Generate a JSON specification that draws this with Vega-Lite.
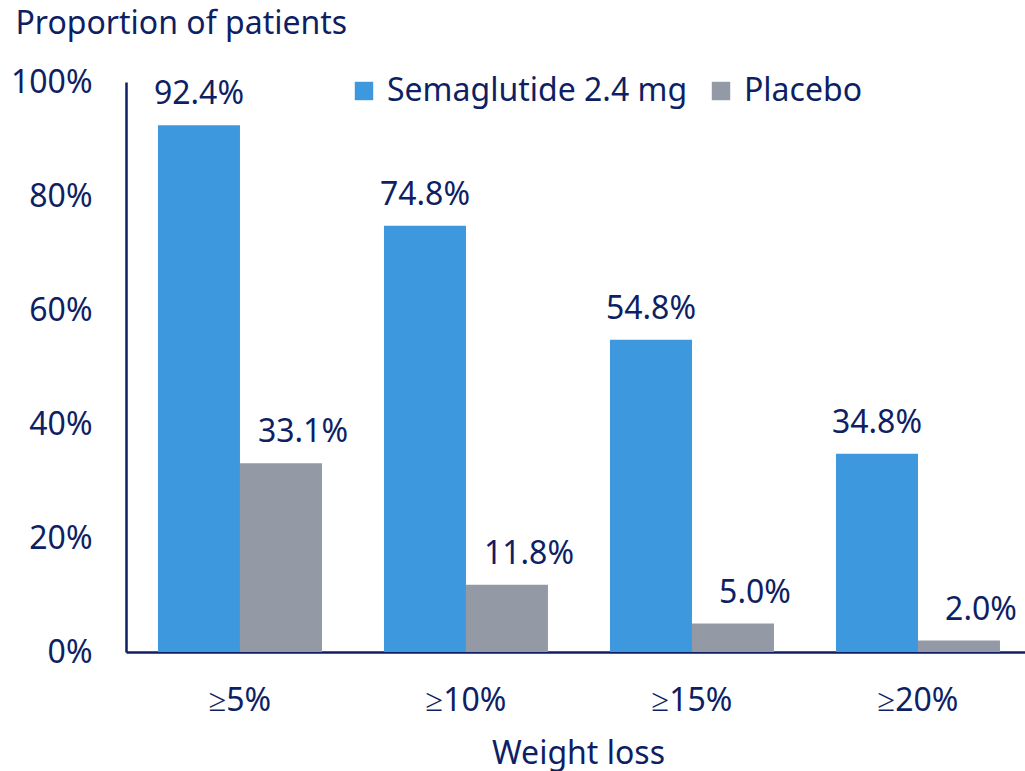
{
  "$schema": "https://vega.github.io/schema/vega-lite/v6.json",
  "autosize": "none",
  "padding": {"left": 126, "top": 82, "right": 0, "bottom": 119},
  "width": 899,
  "height": 570,
  "background": "white",
  "config": {
    "view": {"stroke": null},
    "font": "Noto Sans",
    "text": {"font": "Noto Sans"}
  },
  "data": {
    "values": [
      {"loss": "≥5%", "group": "Semaglutide 2.4 mg", "value": 0.924},
      {"loss": "≥5%", "group": "Placebo", "value": 0.331},
      {"loss": "≥10%", "group": "Semaglutide 2.4 mg", "value": 0.748},
      {"loss": "≥10%", "group": "Placebo", "value": 0.118},
      {"loss": "≥15%", "group": "Semaglutide 2.4 mg", "value": 0.548},
      {"loss": "≥15%", "group": "Placebo", "value": 0.05},
      {"loss": "≥20%", "group": "Semaglutide 2.4 mg", "value": 0.348},
      {"loss": "≥20%", "group": "Placebo", "value": 0.02}
    ]
  },
  "encoding": {
    "x": {
      "field": "loss",
      "type": "nominal",
      "sort": ["≥5%", "≥10%", "≥15%", "≥20%"],
      "scale": {"paddingInner": 0.2743, "paddingOuter": 0.1261, "align": 0.561},
      "axis": {
        "title": "Weight loss",
        "titleFont": "Noto Sans",
        "titleFontSize": 32,
        "titleFontWeight": "normal",
        "titleColor": "#0e1f64",
        "titleBaseline": "alphabetic",
        "titleY": 111,
        "titleX": 452,
        "labelAngle": 0,
        "labelFont": "Noto Sans",
        "labelFontSize": 32,
        "labelColor": "#0e1f64",
        "labelBaseline": "alphabetic",
        "labelPadding": 58,
        "ticks": false,
        "domainColor": "#0e1f64",
        "domainWidth": 2.5
      }
    },
    "xOffset": {
      "field": "group",
      "type": "nominal",
      "sort": ["Semaglutide 2.4 mg", "Placebo"]
    },
    "y": {
      "field": "value",
      "type": "quantitative",
      "scale": {"domain": [0, 1]},
      "axis": {
        "values": [0, 0.2, 0.4, 0.6, 0.8, 1],
        "format": ".0%",
        "grid": false,
        "ticks": false,
        "title": "Proportion of patients",
        "titleAngle": 0,
        "titleAlign": "left",
        "titleBaseline": "alphabetic",
        "titleX": -111,
        "titleY": -49,
        "titleFont": "Noto Sans",
        "titleFontSize": 32,
        "titleFontWeight": "normal",
        "titleColor": "#0e1f64",
        "labelFont": "Noto Sans",
        "labelFontSize": 32,
        "labelColor": "#0e1f64",
        "labelPadding": 34,
        "labelBaseline": "middle",
        "domainColor": "#0e1f64",
        "domainWidth": 2.5
      }
    }
  },
  "layer": [
    {
      "mark": {"type": "bar"},
      "encoding": {
        "color": {
          "field": "group",
          "type": "nominal",
          "sort": ["Semaglutide 2.4 mg", "Placebo"],
          "scale": {"domain": ["Semaglutide 2.4 mg", "Placebo"], "range": ["#3d98de", "#949aa5"]},
          "legend": {
            "title": null,
            "orient": "none",
            "direction": "horizontal",
            "legendX": 222,
            "legendY": -7,
            "padding": 0,
            "symbolType": "square",
            "symbolSize": 340,
            "symbolStrokeWidth": 0,
            "symbolOpacity": 1,
            "labelFont": "Noto Sans",
            "labelFontSize": 32,
            "labelLimit": 0,
            "labelColor": "#0e1f64",
            "labelOffset": 7,
            "columnPadding": 17
          }
        }
      }
    },
    {
      "transform": [{"filter": "datum.group === 'Semaglutide 2.4 mg'"}],
      "mark": {"type": "text", "baseline": "alphabetic", "dy": -21, "fontSize": 32, "font": "Noto Sans", "color": "#0e1f64"},
      "encoding": {"text": {"field": "value", "type": "quantitative", "format": ".1%"}}
    },
    {
      "transform": [{"filter": "datum.group === 'Placebo'"}],
      "mark": {"type": "text", "baseline": "alphabetic", "dy": -21, "dx": 22, "fontSize": 32, "font": "Noto Sans", "color": "#0e1f64"},
      "encoding": {"text": {"field": "value", "type": "quantitative", "format": ".1%"}}
    }
  ]
}
